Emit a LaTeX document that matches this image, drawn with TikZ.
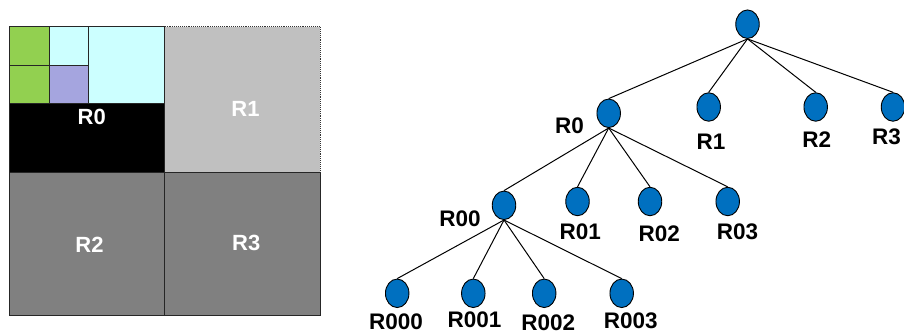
\documentclass[tikz,border=0pt]{standalone}
\usepackage{fontspec}
\setmainfont{Liberation Sans}
\usetikzlibrary{shapes.geometric}
\definecolor{qgreen}{HTML}{92D050}
\definecolor{qcyan}{HTML}{CCFFFF}
\definecolor{qpurple}{HTML}{A5A5DF}
\definecolor{qlight}{HTML}{C0C0C0}
\definecolor{qdark}{HTML}{808080}
\definecolor{qblue}{HTML}{0070C0}
\tikzset{
  cell/.style={draw=black!85, line width=0.9pt},
  regionlabel/.style={text=white, font=\fontsize{22}{26}\selectfont\bfseries, inner sep=0pt},
  treenode/.style={ellipse, draw=black, line width=0.9pt, fill=qblue, minimum width=23.5pt, minimum height=28.5pt, inner sep=0pt},
  treelabel/.style={text=black, font=\fontsize{22.5}{26}\selectfont\bfseries, inner sep=0pt},
  treeedge/.style={draw=black, line width=1pt}
}
\begin{document}
\begin{tikzpicture}[x=1pt,y=-1pt]
\useasboundingbox (0,0) rectangle (904,334);
% ---- left: region subdivision ----
\fill[black] (9.3,26.7) rectangle (164.7,172);
\fill[qlight] (164.7,26.7) rectangle (320,172);
\draw[black!80, line width=0.9pt, densely dotted] (164.7,26.7) -- (320,26.7) -- (320,172);
\fill[qdark] (9.3,172) rectangle (164.7,315.7);
\fill[qdark] (164.7,172) rectangle (320,315.7);
\draw[cell] (9.3,26.7) -- (9.3,315.7) -- (320,315.7) -- (320,172) -- (9.3,172);
\draw[cell] (164.7,26.7) -- (164.7,315.7);
\draw[cell] (9.3,26.7) -- (164.7,26.7);
\draw[cell, fill=qcyan] (88.3,26.7) rectangle (164.7,103.7);
\draw[cell, fill=qgreen] (9.3,26.7) rectangle (49.3,65);
\draw[cell, fill=qcyan] (49.3,26.7) rectangle (88.3,65);
\draw[cell, fill=qgreen] (9.3,65) rectangle (49.3,103.7);
\draw[cell, fill=qpurple] (49.3,65) rectangle (88.3,103.7);
\node[regionlabel] (lr0) at (91.7,116.7) {R0};
\node[regionlabel] (lr1) at (245.5,109) {R1};
\node[regionlabel] (lr2) at (89.5,244.7) {R2};
\node[regionlabel] (lr3) at (246.2,243.3) {R3};
% ---- right: quadtree ----
\node[treenode] (root) at (747.5,24.2) {};
\node[treenode] (r0) at (608.7,113.3) {};
\node[treenode] (r1) at (708.7,107) {};
\node[treenode] (r2) at (815.7,107) {};
\node[treenode] (r3) at (893,107) {};
\node[treenode] (r00) at (504,205.3) {};
\node[treenode] (r01) at (577.5,201.5) {};
\node[treenode] (r02) at (650,201.5) {};
\node[treenode] (r03) at (727.7,201.5) {};
\node[treenode] (r000) at (397.2,293.3) {};
\node[treenode] (r001) at (473.3,293.3) {};
\node[treenode] (r002) at (544.2,293.3) {};
\node[treenode] (r003) at (621.7,293.3) {};
\foreach \c in {r0,r1,r2,r3} \draw[treeedge] (root.south) -- (\c.north);
\foreach \c in {r00,r01,r02,r03} \draw[treeedge] (r0.south) -- (\c.north);
\foreach \c in {r000,r001,r002,r003} \draw[treeedge] (r00.south) -- (\c.north);
\node[treelabel] (t0) at (569.5,125.8) {R0};
\node[treelabel] (t1) at (711,141.3) {R1};
\node[treelabel] (t2) at (816.7,140) {R2};
\node[treelabel] (t3) at (886.5,136.7) {R3};
\node[treelabel] (t00) at (460,218.3) {R00};
\node[treelabel] (t01) at (580.3,232) {R01};
\node[treelabel] (t02) at (659.3,233.7) {R02};
\node[treelabel] (t03) at (737.5,231.3) {R03};
\node[treelabel] (t000) at (396,322) {R000};
\node[treelabel] (t001) at (474.5,320) {R001};
\node[treelabel] (t002) at (548.3,323) {R002};
\node[treelabel] (t003) at (630.8,321) {R003};
\end{tikzpicture}
\end{document}
